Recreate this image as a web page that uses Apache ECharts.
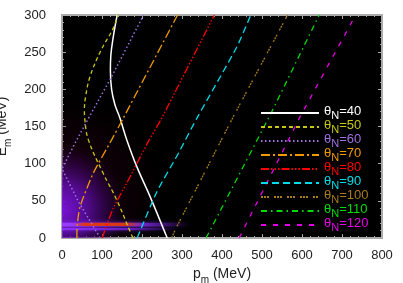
<!DOCTYPE html>
<html><head><meta charset="utf-8">
<script src="https://cdn.jsdelivr.net/npm/echarts@6/dist/echarts.min.js"></script>
<style>html,body{margin:0;padding:0;background:#fff}#c{width:403px;height:283px}</style>
</head><body><div id="c"></div><script>
// ---- data (MeV) ----
const thetaValues = [40, 50, 60, 70, 80, 90, 100, 110, 120];
// each curve: [p_m, E_m] points
const curve40  = [[263,0],[260,4],[220,56],[187,96],[162,132],[145,161],[132,180],[124,200],[121,225],[122,245],[128,270],[138,300]];
const curve50  = [[178,0],[174,4],[137,51],[103,87],[66,132],[57,160],[56,172],[59,190],[70,217],[97,252],[128,282],[140,300]];
const curve60  = [[95,0],[91,4],[41,49],[0,93],[32,127],[66,161],[124,217],[202,298],[204,300]];
const curve70  = [[37,0],[38,17],[45,42],[78,87],[124,132],[153,161],[285,296],[289,300]];
const curve80  = [[100,0],[103,4],[128,40],[162,74],[216,130],[249,161],[377,296],[381,300]];
const curve90  = [[188,0],[191,4],[237,62],[291,114],[337,161],[437,257],[472,300]];
const curve100 = [[274,0],[282,10],[428,163],[557,293],[564,300]];
const curve110 = [[360,0],[366,6],[520,165],[643,300]];
const curve120 = [[443,0],[595,163],[726,292]];
const curves = [curve40, curve50, curve60, curve70, curve80, curve90, curve100, curve110, curve120];
// glow regions of the yield map: [p0, p1, E0, E1]
const hazeWide   = [0, 400, 0, 300];
const hazePurple = [0, 400, 0, 300];
const bandLower  = [0, 290, 10.5, 13.5];
const bandUpper  = [0, 320, 15.5, 20.5];
const bandRed    = [30, 200, 16, 20.5];
const glowRegions = [hazeWide, hazePurple, bandLower, bandUpper, bandRed];
// glow centres [p, E] and radius (MeV along p) for the two hazes
const hazeWideCentre = [0, 60, 250];
const hazePurpleCentre = [0, 38, 160];
const pmRange = [0, 800];
const emRange = [0, 300];

// ---- styles ----
const FONT = 'Liberation Sans, Arial, Helvetica, sans-serif';
const colors = ['#ffffff','#c8c814','#9f70e0','#f09a00','#ff0000','#00dde8','#a87c1c','#00dd00','#e600e6'];
const dashes = ['solid',[4,3],[1.5,2.5],[9,3,2,3],[8,2,1.5,2,1.5,2,1.5,2],[7,4],[2,1,2,1,2,5],[6,4,1.5,4],[5,7]];
const widths = [1.5,1.3,1.5,1.3,1.3,1.3,1.3,1.3,1.3];
const smooths = [0.4,0.4,0,0.2,0.2,0.2,0,0,0];

function grad(k, api){
  const G = echarts.graphic;
  if (k === 0 || k === 1) {
    const c = k === 0 ? hazeWideCentre : hazePurpleCentre;
    const o = api.coord([c[0], c[1]]);
    const r = api.coord([c[0] + c[2], c[1]])[0] - o[0];
    const stops = k === 0
      ? [{offset:0,color:'rgba(75,0,45,0.55)'},{offset:0.5,color:'rgba(50,0,25,0.3)'},{offset:1,color:'rgba(40,0,20,0)'}]
      : [{offset:0,color:'rgba(125,20,225,0.95)'},{offset:0.4,color:'rgba(105,15,195,0.7)'},{offset:1,color:'rgba(60,0,110,0)'}];
    return {fill: new G.RadialGradient(o[0], o[1], r, stops, true)};
  }
  switch(k){
    case 2: return {fill: new G.LinearGradient(0,0,1,0,[{offset:0,color:'rgba(140,50,250,0.95)'},{offset:0.6,color:'rgba(120,35,230,0.7)'},{offset:1,color:'rgba(90,20,200,0)'}]), shadowBlur:4, shadowColor:'rgba(130,40,240,0.8)'};
    case 3: return {fill: new G.LinearGradient(0,0,1,0,[{offset:0,color:'rgba(155,60,255,1)'},{offset:0.6,color:'rgba(135,45,240,0.8)'},{offset:1,color:'rgba(100,20,200,0)'}]), shadowBlur:5, shadowColor:'rgba(140,50,255,0.8)'};
    default: return {fill: new G.LinearGradient(0,0,1,0,[{offset:0,color:'rgba(215,55,20,0)'},{offset:0.15,color:'rgba(225,55,20,1)'},{offset:0.75,color:'rgba(215,55,20,1)'},{offset:1,color:'rgba(200,50,20,0)'}])};
  }
}

const chart = echarts.init(document.getElementById('c'), null, {renderer:'canvas'});
const frameColor = '#aaaaaa';
function frameAxis(extra){
  return Object.assign({
    type:'value', splitLine:{show:false},
    axisLine:{show:true, onZero:false, lineStyle:{color:frameColor, width:2}},
    axisTick:{show:true, inside:true, length:4, lineStyle:{color:frameColor}},
    minorTick:{show:true, splitNumber:5, length:2, lineStyle:{color:frameColor}},
  }, extra);
}
const legends = thetaValues.map((t,i)=>({
  show:true, data:['θN='+t], left:260, top:105 + i*14, padding:0,
  itemWidth:58, itemHeight:14, selectedMode:false,
  itemStyle:{opacity:0},
  formatter: () => '{t|θ}{s|N}{t|=' + t + '}',
  textStyle:{color:colors[i], fontFamily:FONT,
    rich:{t:{fontSize:13, lineHeight:16, verticalAlign:'top', color:colors[i], fontFamily:FONT},
          s:{fontSize:11, lineHeight:10, verticalAlign:'bottom', color:colors[i], fontFamily:FONT}}}
}));

const option = {
  animation:false,
  grid:{left:62, right:21, top:15, bottom:45, show:true, backgroundColor:'#000', borderWidth:0, containLabel:false, outerBoundsMode:'none'},
  legend: legends,
  xAxis:[
    frameAxis({min:pmRange[0], max:pmRange[1], interval:100, position:'bottom',
      axisLabel:{color:'#222', fontSize:13, margin:11, fontFamily:FONT},
      name:'{a|p}{b|m}{a| (MeV)}', nameLocation:'middle', nameGap:29,
      nameTextStyle:{color:'#222', fontFamily:FONT, rich:{a:{fontSize:14, lineHeight:18, verticalAlign:'top', color:'#222', fontFamily:FONT}, b:{fontSize:10, lineHeight:10, verticalAlign:'bottom', color:'#222', fontFamily:FONT}}}}),
    frameAxis({min:pmRange[0], max:pmRange[1], interval:100, position:'top', axisLabel:{show:false}})
  ],
  yAxis:[
    frameAxis({min:emRange[0], max:emRange[1], interval:50, position:'left',
      axisLabel:{color:'#222', fontSize:13, margin:16, fontFamily:FONT},
      name:'{a|E}{b|m}{a| (MeV)}', nameLocation:'middle', nameGap:40, nameRotate:90,
      nameTextStyle:{color:'#222', fontFamily:FONT, rich:{a:{fontSize:14, lineHeight:18, verticalAlign:'top', color:'#222', fontFamily:FONT}, b:{fontSize:10, lineHeight:10, verticalAlign:'bottom', color:'#222', fontFamily:FONT}}}}),
    frameAxis({min:emRange[0], max:emRange[1], interval:50, position:'right', axisLabel:{show:false}})
  ],
  series:[
    {type:'custom', coordinateSystem:'cartesian2d', xAxisIndex:0, yAxisIndex:0, clip:true, silent:true, z:1,
     data: glowRegions.map((r,i)=>[r[0],r[1],r[2],r[3],i]),
     encode:{x:[0,1], y:[2,3]},
     renderItem(params, api){
       const tl = api.coord([api.value(0), api.value(3)]);
       const br = api.coord([api.value(1), api.value(2)]);
       return {type:'rect', shape:{x:tl[0], y:tl[1], width:br[0]-tl[0], height:br[1]-tl[1]}, style: grad(api.value(4), api)};
     }}
  ].concat(curves.map((c,i)=>({
    type:'line', name:'θN='+thetaValues[i], data:c, symbol:'none', z:3, smooth:smooths[i],
    lineStyle:{color:colors[i], width:widths[i], type:dashes[i]},
    itemStyle:{color:colors[i]}, emphasis:{disabled:true}, silent:true, clip:true
  })))
};
chart.setOption(option);
</script></body></html>
